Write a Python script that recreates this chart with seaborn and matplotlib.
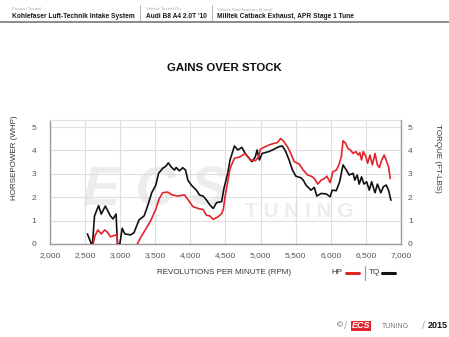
import matplotlib
matplotlib.use("Agg")
import matplotlib.pyplot as plt
import seaborn as sns
import pandas as pd
import numpy as np

# ---------------- data ----------------
rpm_tq = [2533, 2590, 2605, 2634, 2692, 2730, 2788, 2860, 2898, 2941,
          2961, 2995, 3028, 3066, 3148, 3196, 3268, 3340, 3388, 3450,
          3508, 3546, 3604, 3652, 3686, 3724, 3772, 3797, 3844, 3892,
          3931, 3964, 4012, 4085, 4133, 4181, 4229, 4277, 4325, 4373,
          4445, 4478, 4530, 4565, 4627, 4675, 4733, 4781, 4838, 4877,
          4925, 4950, 4983, 5022, 5118, 5190, 5262, 5310, 5358, 5406,
          5454, 5502, 5574, 5607, 5646, 5718, 5766, 5800, 5862, 5934,
          5991, 6020, 6078, 6126, 6174, 6222, 6261, 6318, 6342, 6376,
          6405, 6438, 6472, 6510, 6549, 6582, 6630, 6664, 6712, 6750,
          6788, 6823, 6856]
tq_gain = [0.43, 0.0, 0.0, 1.2, 1.64, 1.28, 1.62, 1.2, 1.07, 1.28,
           0.0, 0.0, 0.67, 0.43, 0.39, 0.48, 1.03, 1.2, 1.6, 2.2,
           2.52, 3.02, 3.23, 3.33, 3.47, 3.3, 3.16, 3.27, 3.13, 3.26,
           3.16, 2.73, 2.52, 2.3, 2.09, 2.05, 1.88, 1.67, 1.52, 1.77,
           1.81, 2.38, 3.0, 3.59, 4.19, 4.02, 4.13, 3.87, 3.66, 3.52,
           3.73, 4.02, 3.59, 3.87, 3.95, 4.05, 4.16, 4.19, 3.95, 3.59,
           3.16, 2.9, 2.83, 2.73, 2.52, 2.3, 2.42, 2.05, 2.16, 2.14,
           2.02, 2.3, 2.28, 2.66, 3.38, 3.16, 2.95, 3.02, 2.73, 2.95,
           2.56, 2.87, 2.56, 2.66, 2.3, 2.66, 2.19, 2.56, 2.19, 2.45,
           2.52, 2.3, 1.87]

rpm_hp_a = [2615, 2640, 2682, 2730, 2778, 2820, 2860, 2932, 2952, 2965]
hp_gain_a = [0.0, 0.35, 0.6, 0.43, 0.6, 0.5, 0.31, 0.38, 0.42, 0.0]

rpm_hp_b = [3244, 3292, 3364, 3436, 3508, 3556, 3604, 3676, 3739, 3820,
            3916, 3964, 4036, 4108, 4181, 4229, 4277, 4325, 4397, 4445,
            4470, 4493, 4565, 4627, 4709, 4781, 4853, 4925, 4974, 4997,
            5046, 5118, 5190, 5238, 5286, 5334, 5382, 5430, 5478, 5550,
            5607, 5670, 5718, 5766, 5814, 5862, 5910, 5944, 5991, 6030,
            6078, 6116, 6150, 6174, 6212, 6246, 6280, 6318, 6357, 6390,
            6414, 6438, 6462, 6501, 6525, 6558, 6592, 6630, 6664, 6693,
            6726, 6760, 6788, 6823, 6847]
hp_gain_b = [0.0, 0.28, 0.64, 1.0, 1.5, 1.94, 2.19, 2.22, 2.1, 2.05,
             2.1, 1.9, 1.6, 1.52, 1.47, 1.23, 1.2, 1.05, 1.17, 1.3,
             1.5, 2.0, 3.23, 3.66, 3.73, 3.87, 3.59, 3.56, 3.73, 4.05,
             4.13, 4.23, 4.3, 4.33, 4.51, 4.37, 4.16, 3.87, 3.52, 3.42,
             3.16, 2.95, 2.9, 2.8, 2.56, 2.73, 2.8, 2.9, 2.62, 3.09,
             3.16, 3.38, 3.73, 4.41, 4.3, 4.08, 4.02, 3.87, 3.95, 3.8,
             3.9, 3.59, 3.95, 3.73, 3.45, 3.8, 3.38, 3.87, 3.38, 3.27,
             3.59, 3.8, 3.59, 3.3, 2.8]

x_ticks = [2000, 2500, 3000, 3500, 4000, 4500, 5000, 5500, 6000, 6500, 7000]
y_ticks = [0, 1, 2, 3, 4, 5]

title = "GAINS OVER STOCK"
header_labels = ["Product Tested", "Vehicle Tested On", "Vehicle Modifications (if any)"]
header_values = ["Kohlefaser Luft-Technik Intake System", "Audi B8 A4 2.0T '10",
                 "Milltek Catback Exhaust, APR Stage 1 Tune"]

# ---------------- frame ----------------
df = pd.concat([
    pd.DataFrame({"rpm": rpm_tq, "gain": tq_gain, "series": "TQ", "seg": "tq"}),
    pd.DataFrame({"rpm": rpm_hp_a, "gain": hp_gain_a, "series": "HP", "seg": "hp_a"}),
    pd.DataFrame({"rpm": rpm_hp_b, "gain": hp_gain_b, "series": "HP", "seg": "hp_b"}),
], ignore_index=True)

sns.set_theme(style="white")
plt.rcParams["font.family"] = ["Liberation Sans", "DejaVu Sans"]

W, H = 449, 337
fig = plt.figure(figsize=(W / 100, H / 100), dpi=100)
fig.patch.set_facecolor("white")

def fx(px):
    return px / W

def fy(py):
    return 1 - py / H

ax = fig.add_axes([fx(50), fy(244), fx(401) - fx(50), fy(120) - fy(244)])
ax.set_facecolor("white")

# watermark
ax.text(0.30, 0.42, "E C S", transform=ax.transAxes, fontsize=40, fontweight="bold",
        fontstyle="italic", color="#ededed", ha="center", va="center", zorder=0)
ax.text(0.71, 0.26, "T U N I N G", transform=ax.transAxes, fontsize=15, fontweight="bold",
        color="#ededed", ha="center", va="center", zorder=0)

palette = {"HP": "#e3242b", "TQ": "#111111"}
sns.lineplot(data=df, x="rpm", y="gain", hue="series", units="seg", estimator=None,
             palette=palette, linewidth=1.2, legend=False, ax=ax, zorder=3, sort=False)

ax.set_xlim(2000, 7000)
ax.set_ylim(0, 5.3)
ax.set_xticks(x_ticks)
ax.set_xticklabels([f"{v:,}" for v in x_ticks])
ax.set_yticks(y_ticks)
ax.grid(True, color="#dedede", linewidth=0.8, zorder=1)
ax.set_axisbelow(True)
ax.set_xlabel("")
ax.set_ylabel("")
ax.tick_params(axis="both", length=0, labelsize=6, colors="#555555")
ax.tick_params(axis="x", pad=6)
ax.tick_params(axis="y", pad=10)
for s in ["left", "bottom"]:
    ax.spines[s].set_color("#9a9a9a")
    ax.spines[s].set_linewidth(1.0)
ax.spines["top"].set_color("#e2e2e2")
ax.spines["top"].set_linewidth(0.8)
ax.spines["right"].set_visible(False)

ax2 = ax.twinx()
ax2.set_ylim(0, 5.3)
ax2.set_yticks(y_ticks)
ax2.tick_params(axis="y", length=0, labelsize=6, colors="#555555", pad=5)
for s in ["left", "top", "bottom"]:
    ax2.spines[s].set_visible(False)
ax2.spines["right"].set_color("#9a9a9a")
ax2.spines["right"].set_linewidth(1.0)
ax2.grid(False)

# axis labels
fig.text(fx(15), fy(158), "HORSEPOWER (WHP)", rotation=90, ha="center", va="center",
         fontsize=5.8, color="#333333")
fig.text(fx(437), fy(158), "TORQUE (FT-LBS)", rotation=270, ha="center", va="center",
         fontsize=5.8, color="#333333")
fig.text(fx(224.5), fy(273), "REVOLUTIONS PER MINUTE (RPM)", ha="center", va="center",
         fontsize=5.8, color="#333333")

# title
fig.text(fx(224.5), fy(68), title, ha="center", va="center", fontsize=8.2,
         fontweight="bold", color="#111111")

# legend
fig.text(fx(337), fy(273), "HP", ha="center", va="center", fontsize=5.8, color="#333333")
fig.add_artist(plt.Line2D([fx(346), fx(359)], [fy(273), fy(273)], color=palette["HP"],
                          linewidth=2.2, transform=fig.transFigure))
fig.add_artist(plt.Line2D([fx(365), fx(365)], [fy(266), fy(280)], color="#999999",
                          linewidth=0.8, transform=fig.transFigure))
fig.text(fx(374), fy(273), "TQ", ha="center", va="center", fontsize=5.8, color="#333333")
fig.add_artist(plt.Line2D([fx(382), fx(395)], [fy(273), fy(273)], color=palette["TQ"],
                          linewidth=2.2, transform=fig.transFigure))

# header
col_x = [12, 146.5, 217]
for cx, lab, val in zip(col_x, header_labels, header_values):
    fig.text(fx(cx), fy(9.5), lab, ha="left", va="center", fontsize=3.2, color="#aaaaaa")
    fig.text(fx(cx), fy(16.5), val, ha="left", va="center", fontsize=4.8,
             fontweight="bold", color="#1a1a1a")
for sx in [140, 212]:
    fig.add_artist(plt.Line2D([fx(sx), fx(sx)], [fy(5), fy(20)], color="#aaaaaa",
                              linewidth=0.6, transform=fig.transFigure))
fig.add_artist(plt.Line2D([0, 1], [fy(22), fy(22)], color="#777777", linewidth=1.2,
                          transform=fig.transFigure))

# footer
fig.text(fx(340), fy(326), "\u00a9", ha="center", va="center", fontsize=6, color="#555555")
fig.text(fx(346), fy(326), "/", ha="center", va="center", fontsize=8, color="#aaaaaa")
fig.text(fx(361), fy(326), "ECS", ha="center", va="center", fontsize=6.5, fontweight="bold",
         fontstyle="italic", color="white",
         bbox=dict(boxstyle="square,pad=0.1", facecolor="#e3242b", edgecolor="none"))
fig.text(fx(395), fy(326.5), "TUNING", ha="center", va="center", fontsize=5,
         color="#777777")
fig.text(fx(424), fy(326), "/", ha="center", va="center", fontsize=8, color="#aaaaaa")
fig.text(fx(438), fy(326), "2015", ha="center", va="center", fontsize=6.5,
         fontweight="bold", color="#111111")

fig.savefig("out.png", dpi=100)
